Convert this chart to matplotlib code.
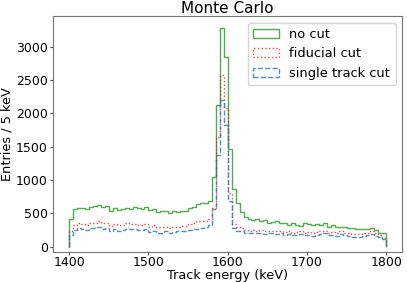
import numpy as np
import matplotlib
matplotlib.use("Agg")
import matplotlib.pyplot as plt

# 5 keV bins from 1400 to 1800 keV
edges = np.arange(1400, 1805, 5)

no_cut = [410, 560, 575, 580, 560, 600, 610, 625, 600, 610,
          530, 580, 550, 560, 580, 570, 590, 580, 560, 590,
          550, 560, 520, 540, 540, 510, 530, 520, 540, 530,
          580, 600, 640, 660, 650, 680, 1040, 2120, 3280, 2850,
          1460, 860, 650, 520, 440, 420, 400, 410, 390, 400,
          360, 370, 380, 350, 360, 330, 360, 320, 310, 350,
          340, 320, 340, 330, 350, 300, 320, 300, 300, 290,
          280, 280, 270, 270, 260, 260, 280, 250, 210, 200]

fiducial = [230, 330, 350, 340, 320, 350, 360, 380, 350, 360,
            310, 340, 320, 330, 350, 340, 340, 330, 330, 340,
            300, 320, 290, 290, 300, 280, 300, 300, 310, 310,
            340, 350, 380, 390, 380, 420, 580, 1640, 2580, 2080,
            800, 340, 300, 280, 250, 240, 250, 240, 250, 230,
            240, 240, 230, 240, 220, 230, 210, 220, 230, 210,
            220, 200, 220, 230, 240, 210, 220, 200, 230, 210,
            200, 190, 190, 190, 200, 210, 230, 200, 170, 130]

single_track = [180, 250, 280, 270, 250, 280, 280, 290, 260, 280,
                240, 260, 240, 250, 270, 260, 260, 250, 250, 260,
                220, 240, 200, 210, 230, 210, 220, 230, 230, 240,
                250, 260, 270, 280, 290, 320, 560, 1380, 2200, 1820,
                690, 280, 240, 230, 210, 200, 210, 200, 210, 190,
                200, 200, 190, 200, 180, 190, 170, 180, 190, 170,
                180, 160, 180, 190, 200, 170, 180, 160, 190, 170,
                160, 150, 150, 150, 160, 170, 190, 160, 140, 110]

fig = plt.figure(figsize=(4.07, 2.82), dpi=100)
ax = fig.add_axes([0.131, 0.108, 0.857, 0.835])

centers = edges[:-1] + 2.5
ax.hist(centers, bins=edges, weights=no_cut, histtype="step",
        color="#2ca02c", lw=1.0, alpha=0.85, label="no cut")
ax.hist(centers, bins=edges, weights=fiducial, histtype="step",
        color="red", lw=1.0, ls=":", alpha=0.75, label="fiducial cut")
ax.hist(centers, bins=edges, weights=single_track, histtype="step",
        color="#1f77b4", lw=1.0, ls="--", alpha=0.8, label="single track cut")

ax.set_xlim(1380, 1820)
ax.set_ylim(-75, 3464)
ax.set_xticks([1400, 1500, 1600, 1700, 1800])
ax.set_yticks([0, 500, 1000, 1500, 2000, 2500, 3000])
ax.tick_params(labelsize=9, length=2.5, pad=1.5, color="#555555")
ax.tick_params(axis="x", pad=0.8)
for s in ax.spines.values():
    s.set_color("#777777")
ax.set_xlabel("Track energy (keV)", fontsize=9.3, labelpad=0)
ax.set_ylabel("Entries / 5 keV", fontsize=9.3, labelpad=2)
ax.set_title("Monte Carlo", fontsize=11, pad=2)
ax.legend(loc="upper right", fontsize=9.4, handlelength=2.0,
          borderaxespad=0.5)

fig.savefig("out.png", dpi=100)
